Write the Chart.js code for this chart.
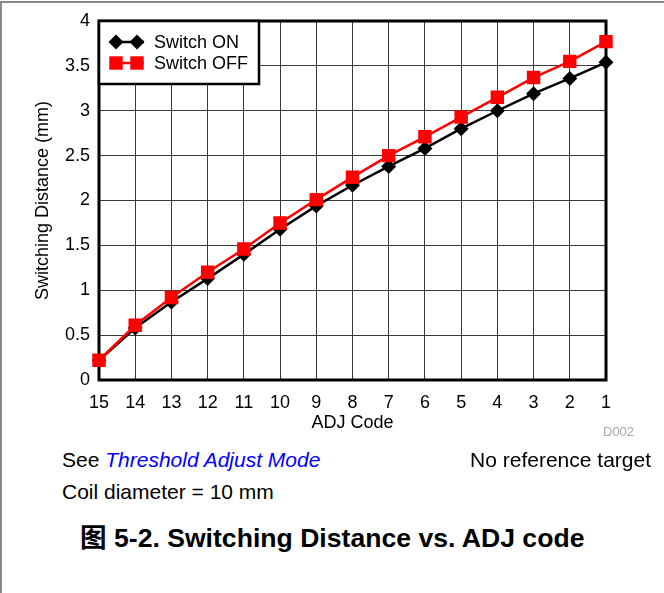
<!DOCTYPE html>
<html>
<head>
<meta charset="utf-8">
<title>Switching Distance vs. ADJ code</title>
<script src="https://cdn.jsdelivr.net/npm/chart.js@4.4.0/dist/chart.umd.min.js"></script>
<style>
    body { margin: 0; background: #fff; font-family: 'Liberation Sans', Arial, sans-serif; }
    #page { position: relative; width: 664px; height: 593px; overflow: hidden; }
    #frame { position: absolute; left: 0; top: 1px; width: 700px; height: 600px; border-top: 2px solid #888; border-left: 2px solid #888; }
    #chartBox { position: absolute; left: 0; top: 0; width: 664px; height: 445px; }
    .txt { position: absolute; white-space: nowrap; color: #000; }
    #d002 { left: 603px; top: 424px; font-size: 13px; color: #a8a8a8; }
    #see { left: 62px; top: 448px; font-size: 21px; }
    #see i { color: #0000ff; }
    #noref { right: 13px; top: 448px; font-size: 21px; }
    #coil { left: 62px; top: 480px; font-size: 21px; }
    #caption { left: 80px; top: 516px; font-size: 26.6px; font-weight: bold; font-family: 'Liberation Sans', Arial, 'Noto Sans CJK SC', sans-serif; }
</style>
</head>
<body>
<div id="page">
    <div id="frame"></div>
    <div id="chartBox"><canvas id="distChart" width="664" height="445"></canvas></div>
    <div class="txt" id="d002">D002</div>
    <div class="txt" id="see">See <i>Threshold Adjust Mode</i></div>
    <div class="txt" id="noref">No reference target</div>
    <div class="txt" id="coil">Coil diameter = 10 mm</div>
    <div class="txt" id="caption">图 5-2. Switching Distance vs. ADJ code</div>
</div>
<script>
// values
var adjCodes = ['15', '14', '13', '12', '11', '10', '9', '8', '7', '6', '5', '4', '3', '2', '1'];
var switchOn = [0.22, 0.58, 0.87, 1.13, 1.40, 1.68, 1.94, 2.17, 2.38, 2.58, 2.80, 3.00, 3.19, 3.36, 3.54];
var switchOff = [0.22, 0.61, 0.92, 1.20, 1.46, 1.75, 2.01, 2.26, 2.50, 2.71, 2.93, 3.15, 3.37, 3.55, 3.77];
var yMin = 0, yMax = 4, yStep = 0.5;

var FONT = "'Liberation Sans', Arial, sans-serif";

function drawMarker(ctx, style, x, y, r, color) {
    ctx.fillStyle = color;
    ctx.beginPath();
    if (style === 'rectRot') {
        ctx.moveTo(x, y - r);
        ctx.lineTo(x + r, y);
        ctx.lineTo(x, y + r);
        ctx.lineTo(x - r, y);
        ctx.closePath();
    } else {
        var s = r * Math.SQRT1_2;
        ctx.rect(x - s, y - s, 2 * s, 2 * s);
    }
    ctx.fill();
}

// thick box around the plot, drawn under the data
var plotFrame = {
    id: 'plotFrame',
    beforeDatasetsDraw: function (chart) {
        var a = chart.chartArea, ctx = chart.ctx;
        ctx.save();
        ctx.strokeStyle = '#000';
        ctx.lineWidth = 3;
        ctx.strokeRect(a.left, a.top, a.right - a.left, a.bottom - a.top);
        ctx.restore();
    }
};

// boxed legend in the upper-left corner of the plot
var cornerLegend = {
    id: 'cornerLegend',
    afterDatasetsDraw: function (chart) {
        var a = chart.chartArea, ctx = chart.ctx;
        var x0 = a.left, y0 = a.top, w = 160, h = 63;
        ctx.save();
        ctx.fillStyle = '#fff';
        ctx.fillRect(x0, y0, w, h);
        ctx.strokeStyle = '#000';
        ctx.lineWidth = 2.5;
        ctx.strokeRect(x0, y0, w, h);
        ctx.font = '18px ' + FONT;
        ctx.textBaseline = 'middle';
        chart.data.datasets.forEach(function (ds, i) {
            var y = y0 + 21 + i * 21;
            ctx.strokeStyle = ds.borderColor;
            ctx.lineWidth = ds.borderWidth;
            ctx.beginPath();
            ctx.moveTo(x0 + 11, y);
            ctx.lineTo(x0 + 45, y);
            ctx.stroke();
            drawMarker(ctx, ds.pointStyle, x0 + 17, y, ds.legendMarker, ds.pointBackgroundColor);
            drawMarker(ctx, ds.pointStyle, x0 + 38, y, ds.legendMarker, ds.pointBackgroundColor);
            ctx.fillStyle = '#000';
            ctx.fillText(ds.label, x0 + 55, y + 1);
        });
        ctx.restore();
    }
};

var ctx = document.getElementById('distChart').getContext('2d');
var chart = new Chart(ctx, {
    type: 'line',
    data: {
        labels: adjCodes,
        datasets: [
            {
                label: 'Switch ON',
                data: switchOn,
                borderColor: '#000',
                backgroundColor: '#000',
                pointBackgroundColor: '#000',
                pointBorderColor: '#000',
                borderWidth: 2.5,
                pointStyle: 'rectRot',
                pointRadius: 7.5,
                pointBorderWidth: 0,
                legendMarker: 7.5,
                order: 2
            },
            {
                label: 'Switch OFF',
                data: switchOff,
                borderColor: '#ff0000',
                backgroundColor: '#ff0000',
                pointBackgroundColor: '#ff0000',
                pointBorderColor: '#ff0000',
                borderWidth: 2.5,
                pointStyle: 'rect',
                pointRadius: 9.5,
                pointBorderWidth: 0,
                legendMarker: 9.5,
                order: 1
            }
        ]
    },
    options: {
        responsive: false,
        animation: false,
        layout: { padding: { left: 0, top: 21, right: 58, bottom: 0 } },
        plugins: {
            legend: { display: false },
            tooltip: { enabled: false }
        },
        scales: {
            x: {
                offset: false,
                grid: { color: '#3a3a3a', lineWidth: 1, drawTicks: false, offset: false },
                border: { display: false },
                ticks: { color: '#000', font: { family: FONT, size: 18 }, padding: 12, maxRotation: 0, autoSkip: false },
                title: { display: true, text: 'ADJ Code', color: '#000', font: { family: FONT, size: 18 }, padding: { top: 0, bottom: 11 } },
                afterFit: function (scale) { scale.height = 65; }
            },
            y: {
                min: yMin,
                max: yMax,
                grid: { color: '#3a3a3a', lineWidth: 1, drawTicks: false },
                border: { display: false },
                ticks: {
                    stepSize: yStep, color: '#000', font: { family: FONT, size: 18 }, padding: 9,
                    callback: function (v) { return String(v); }
                },
                title: { display: true, text: 'Switching Distance (mm)', color: '#000', font: { family: FONT, size: 18 }, padding: { top: 32, bottom: 0 } },
                afterFit: function (scale) { scale.width = 99; }
            }
        }
    },
    plugins: [plotFrame, cornerLegend]
});
</script>
</body>
</html>
